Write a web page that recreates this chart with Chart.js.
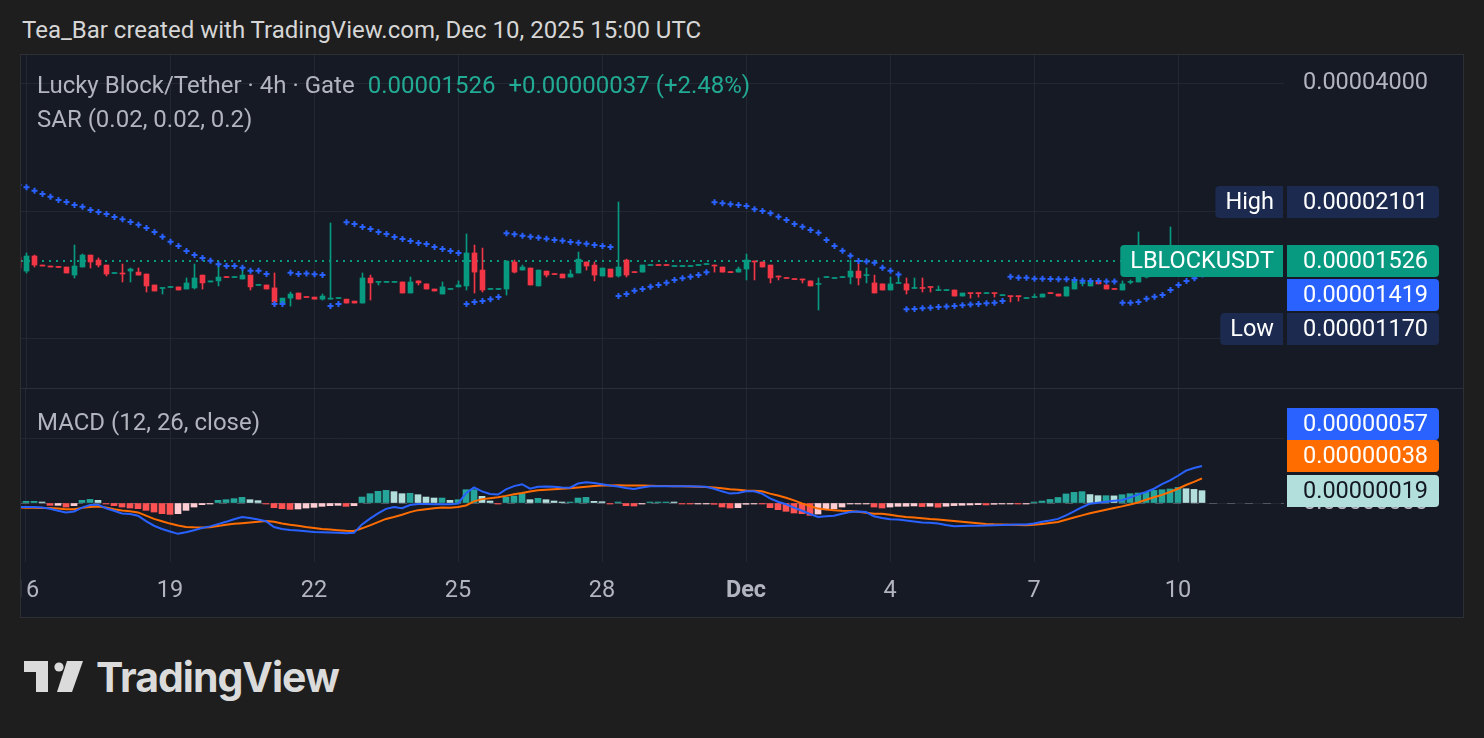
<!DOCTYPE html>
<html>
<head>
<meta charset="utf-8">
<script src="https://cdn.jsdelivr.net/npm/chart.js@4.4.1/dist/chart.umd.min.js"></script>
<style>
  body { margin: 0; width: 1484px; height: 738px; background: #1e1e1e; position: relative; overflow: hidden; font-family: Roboto, sans-serif; }
  #title { position: absolute; left: 22px; top: 16px; font-size: 24px; line-height: 28px; color: #d6d6d6; }
  #panel { position: absolute; left: 20px; top: 54px; width: 1442px; height: 562px; border: 1px solid #2e2f34; background: #161a25; }
  #sep { position: absolute; left: 21px; top: 388px; width: 1442px; height: 1px; background: #2a2e39; }
  .leg { position: absolute; left: 37px; font-size: 24px; line-height: 28px; color: #b2b5be; white-space: nowrap; }
  .up { color: #22ab94; margin-left: 13px; }
  canvas { position: absolute; }
  #logo { position: absolute; left: 24px; top: 661px; }
  #brand { position: absolute; left: 96px; top: 652px; font-family: Inter, sans-serif; font-weight: 700; font-size: 41px; line-height: 50px; color: #dbdbdb; letter-spacing: -1px; }
</style>
</head>
<body>
<div id="title">Tea_Bar created with TradingView.com, Dec 10, 2025 15:00 UTC</div>
<div id="panel"></div>
<div id="sep"></div>
<div style="position:absolute;left:21px;top:55px;width:1442px;height:333px"><canvas id="price"></canvas></div>
<div style="position:absolute;left:21px;top:389px;width:1442px;height:227px"><canvas id="macd"></canvas></div>
<div class="leg" style="top:71px">Lucky Block/Tether · 4h · Gate<span class="up">0.00001526</span><span class="up">+0.00000037 (+2.48%)</span></div>
<div class="leg" style="top:105px">SAR (0.02, 0.02, 0.2)</div>
<div class="leg" style="top:408px">MACD (12, 26, close)</div>
<svg id="logo" width="60" height="32" viewBox="0 0 60 32">
  <path d="M0 0 H24 V31 H12 V11 H0 Z" fill="#dbdbdb"/>
  <circle cx="35" cy="6" r="4.6" fill="#dbdbdb"/>
  <path d="M43 0 H59 L48 31 H33 Z" fill="#dbdbdb"/>
</svg>
<div id="brand">TradingView</div>

<script>
// 4h bars, Nov 15 20:00 -> Dec 10 12:00 UTC; prices in units of 1e-8 USDT
const UNIT = 1e-8;
const FIRST_BAR = -1;   // bar index of the first value (0 = Nov 16 00:00)

const open = [1559,1445,1568,1493,1485,1477,1477,1414,1477,1576,1534,1493,1426,1430,1445,1437,1422,1340,1315,1322,
  1326,1311,1319,1414,1362,1370,1399,1395,1384,1414,1337,1340,1319,1215,1248,1283,1255,1255,1241,1241,
  1245,1241,1228,1215,1392,1359,1359,1359,1362,1283,1370,1348,1311,1276,1308,1326,1333,1594,1453,1308,
  1308,1311,1518,1453,1469,1333,1445,1422,1422,1399,1430,1518,1493,1407,1461,1407,1534,1437,1437,1489,
  1493,1493,1481,1481,1481,1489,1497,1493,1477,1437,1437,1461,1526,1518,1493,1407,1392,1384,1384,1370,
  1344,1395,1388,1395,1399,1445,1410,1355,1348,1304,1351,1348,1315,1319,1326,1300,1300,1304,1262,1283,
  1283,1279,1283,1265,1262,1262,1245,1252,1255,1283,1276,1262,1311,1351,1333,1362,1340,1311,1304,1359,
  1362,1399,1453,1437,1518,1576,1518,1501,1489];
const high = [1576,1594,1576,1493,1485,1479,1477,1664,1585,1576,1551,1493,1430,1501,1469,1469,1422,1340,1319,1326,
  1326,1392,1501,1414,1370,1509,1399,1399,1477,1414,1340,1340,1430,1248,1290,1283,1255,1255,1276,1875,
  1248,1241,1228,1430,1414,1362,1362,1362,1362,1399,1370,1348,1311,1362,1311,1370,1767,1664,1637,1311,
  1311,1526,1534,1493,1469,1453,1445,1422,1422,1453,1602,1518,1518,1469,1461,2101,1542,1437,1493,1493,
  1493,1493,1485,1485,1485,1493,1501,1493,1477,1437,1477,1585,1526,1518,1493,1407,1392,1384,1384,1370,
  1392,1399,1392,1399,1534,1509,1469,1414,1348,1399,1414,1392,1392,1392,1326,1333,1304,1304,1283,1283,
  1283,1283,1283,1269,1262,1262,1248,1276,1276,1283,1276,1326,1370,1370,1377,1362,1340,1311,1370,1377,
  1786,1461,1469,1534,1835,1594,1534,1509,1551];
const low = [1453,1430,1477,1485,1477,1472,1430,1392,1477,1469,1477,1407,1426,1362,1362,1414,1290,1297,1276,1322,
  1304,1311,1311,1311,1362,1333,1395,1395,1384,1304,1337,1311,1195,1208,1195,1241,1252,1241,1235,1241,
  1245,1215,1215,1215,1235,1340,1359,1359,1283,1283,1340,1311,1297,1276,1308,1326,1304,1283,1290,1308,
  1308,1269,1430,1453,1340,1333,1399,1418,1392,1399,1430,1453,1370,1407,1399,1399,1399,1433,1437,1489,
  1489,1489,1481,1481,1481,1489,1497,1437,1437,1433,1437,1377,1377,1477,1355,1377,1388,1380,1355,1333,
  1170,1395,1388,1395,1348,1340,1355,1283,1304,1304,1351,1276,1315,1290,1290,1300,1300,1262,1262,1248,
  1255,1279,1255,1265,1222,1228,1245,1252,1255,1279,1262,1262,1311,1333,1333,1348,1311,1308,1304,1348,
  1362,1392,1430,1430,1501,1501,1477,1477,1477];
const close = [1469,1568,1493,1485,1477,1474,1430,1485,1576,1518,1493,1422,1430,1422,1461,1414,1333,1297,1319,1326,
  1304,1355,1392,1355,1370,1399,1395,1399,1414,1326,1340,1311,1222,1248,1276,1241,1252,1241,1262,1248,
  1248,1215,1215,1392,1355,1362,1362,1362,1283,1362,1355,1311,1297,1326,1311,1340,1594,1437,1304,1311,
  1311,1526,1437,1477,1340,1453,1414,1418,1392,1422,1542,1485,1414,1469,1399,1477,1414,1433,1493,1493,
  1489,1489,1485,1485,1485,1493,1501,1485,1437,1433,1461,1534,1518,1477,1392,1399,1388,1380,1377,1333,
  1348,1399,1392,1399,1445,1392,1414,1283,1304,1348,1355,1304,1319,1315,1322,1304,1304,1262,1283,1279,
  1279,1283,1279,1269,1258,1258,1248,1255,1276,1279,1262,1326,1370,1355,1362,1348,1311,1308,1348,1362,
  1399,1453,1437,1518,1576,1518,1485,1489,1526];
// Parabolic SAR (0.02, 0.02, 0.2)
const sar = [2304,2275,2234,2194,2162,2124,2101,2067,2048,2012,1990,1969,1937,1913,1886,1858,1825,1786,1741,1694,
  1655,1611,1576,1551,1528,1499,1485,1485,1471,1447,1447,1422,1208,1208,1432,1422,1427,1420,1414,1195,
  1208,1883,1865,1835,1815,1786,1767,1738,1719,1701,1682,1673,1646,1629,1611,1594,1208,1222,1228,1241,
  1255,1773,1764,1750,1741,1731,1722,1710,1704,1692,1685,1676,1664,1655,1646,1262,1276,1299,1311,1328,
  1340,1357,1377,1389,1401,1414,1435,2097,2086,2075,2067,2056,2020,2001,1976,1941,1906,1865,1838,1805,
  1779,1710,1655,1614,1571,1526,1522,1512,1471,1447,1418,1175,1177,1181,1185,1189,1193,1195,1200,1206,
  1208,1213,1217,1228,1401,1394,1394,1386,1386,1384,1382,1382,1377,1372,1370,1370,1365,1365,1217,1217,
  1222,1243,1257,1269,1304,1340,1370,1389,1419];
// MACD (12, 26, close), units of 1e-8
const macd = [-6,-6,-6,-7,-9,-12,-14.5,-13,-7,-3,-2.5,-8,-12,-16,-17,-19.5,-28,-35,-40,-44,
  -47.5,-45,-42,-38.5,-36,-32.5,-29,-25,-21.5,-23,-25.5,-28,-37,-40,-41.5,-42.5,-43.5,-44.5,-45,-45.5,
  -46,-46.5,-46,-33,-24,-16,-9,-6,-8,-3,-1.5,-1.5,-2,-2,-2,-1,15,24,18,14,
  13,21,26,29,22,25,25.5,25,24,23.7,30,32,31,29,27,25.5,23,21.5,24,25.7,
  26,26,26,26,25.8,25.3,25,22,18,14.5,15.5,18,18,14.5,7,2,-2,-7,-12,-17,
  -21.5,-20.5,-19.5,-16.5,-14,-13,-14,-20.5,-23,-25,-25.3,-27,-28.5,-30,-30.5,-31.5,-34,-35.9,-35.5,-35.2,
  -35,-34.7,-34.2,-34,-33.5,-33.2,-33,-31.5,-29,-27,-24.5,-19,-13,-6.5,-1,0.5,2,3.5,4.2,8.5,
  13,17,22,29,35,42,50,54,57];
const signal = [-7,-7.2,-7.4,-7.5,-7.6,-8.5,-9.5,-9.5,-7.5,-6,-5.3,-7,-9.5,-11.5,-12.8,-14.5,-19.5,-24.5,-28,-31.7,
  -34.5,-36.8,-37.5,-37.7,-37.3,-35.5,-33.5,-32,-31,-30,-29,-27.7,-29,-31.5,-33.5,-35,-37,-38.5,-40,-41,
  -42,-42.8,-43,-39,-34.4,-29.5,-24.5,-21.5,-18,-14,-11,-9.5,-8.2,-7,-7.2,-6,-3.8,2.5,6,7.5,
  9,11,13.5,15.5,17.8,19.5,20.5,21.3,22,22.7,24,25.2,26.2,26.8,27,27.3,27.1,27,26.8,26.6,
  26.4,26.2,26,25.8,25.5,25.1,24.8,24,22.8,21.3,20.3,19.2,18.9,18,14.5,11.5,8,4,-0.5,-4.5,
  -8.6,-10,-11,-11.8,-12.3,-13.5,-15,-16.5,-16.5,-18,-20,-21.5,-22.3,-23.5,-24.7,-25.5,-26.6,-27.7,-28.8,-29.9,
  -31,-32.2,-32.9,-33.3,-33.6,-33.9,-34.2,-33.6,-32.2,-30.8,-29.3,-25.9,-22.4,-19,-15.9,-13.1,-10.4,-7.6,-5.2,-2.2,
  0.8,5,8.8,12.5,16.9,22,27.8,32.5,38];
const hist = [1.5,2.6,2.6,1.5,-3.6,-3.6,-6.2,-4.1,4.1,5.6,4.1,-0.5,-4.1,-6.2,-7.7,-8.7,-11.3,-13.9,-16.4,-17.5,
  -16.4,-11.3,-6.2,-2.6,-1.5,4.1,5.1,6.7,8.7,5.1,3.6,-0.3,-7.2,-8.7,-9.8,-9.2,-7.7,-6.7,-5.1,-4.1,
  -3.6,-5.1,-4.1,9.2,14.4,18,19.5,17.5,14.4,15,12.8,9.2,7.7,7.7,4.1,5.1,20.5,20.5,10.3,3.1,
  -1.5,9.2,10.8,14.4,5.1,7.2,5.1,3.1,1.5,1.5,7.7,8.7,2.6,2,-1.5,1,-4.1,-4.6,-1,0.5,
  0.5,0.5,0.4,-1,-1.5,-1.5,-1.5,-2,-6.2,-7.7,-7.2,-2,-0.5,-1.5,-7.2,-10.3,-12.8,-15.4,-16.4,-19,
  -17,-10.3,-8.7,-6.2,-1.5,-1.5,-1,-6.2,-7.7,-6.2,-5.1,-5,-4.5,-5.5,-5,-6.5,-5,-4,-3.5,-3,
  -2.5,-3,-2,-1.5,-1,-1.5,-1,1.5,3,5.5,8.5,14,16.4,17.5,13,11.3,11.3,11,12.8,14.4,
  15.4,16.4,19.5,20.5,21.6,24,22,21,19];

// date axis: bar index of each labelled day and its label
const dateTicks = [0, 18, 36, 54, 72, 90, 108, 126, 144];
const dateLabels = ['16', '19', '22', '25', '28', 'Dec', '4', '7', '10'];

const priceTicks = [1000, 2000, 4000];
const macdTicks = [0, 100];

const UP = '#089981', DOWN = '#f23645';
const GRID = '#232733', TEXT = '#b2b5be';
const AXIS_W = 179;
const FONT = 'Roboto';
const AXIS_FONT = 23.5;

const xs = close.map((_, k) => k + FIRST_BAR);
const candleColor = close.map((c, k) => c >= open[k] ? UP : DOWN);
const histColor = hist.map((h, k) => {
  const prev = k > 0 ? hist[k - 1] : h;
  if (h >= 0) return h >= prev ? '#26a69a' : '#b2dfdb';
  return h >= prev ? '#ffcdd2' : '#ff5252';
});
const fmt = v => Number(v).toFixed(8);

function noPad(s) {
  s.paddingLeft = 0; s.paddingRight = 0; s.paddingTop = 0; s.paddingBottom = 0;
}

function xScale(min, showLabels) {
  return {
    type: 'linear', min: min, max: min + 1263 / 8, offset: false, bounds: 'data',
    afterBuildTicks: s => { s.ticks = dateTicks.map(v => ({ value: v })); },
    afterFit: s => { s.height = showLabels ? 54 : 0; noPad(s); },
    grid: { color: GRID, drawTicks: false, offset: false },
    border: { display: false },
    ticks: {
      display: showLabels, padding: 15, color: TEXT, maxRotation: 0, autoSkip: false,
      font: ctx => ({ family: FONT, size: AXIS_FONT, weight: dateLabels[ctx.index] === 'Dec' ? 'bold' : 'normal' }),
      callback: (v, i) => dateLabels[i]
    }
  };
}

function yAxis(extra) {
  return Object.assign({
    position: 'right', bounds: 'data',
    afterFit: s => { s.width = AXIS_W; noPad(s); },
    grid: { color: GRID, drawTicks: false },
    border: { display: false },
    ticks: { color: TEXT, padding: 19, font: { family: FONT, size: AXIS_FONT }, callback: v => fmt(v) }
  }, extra);
}

function roundBox(ctx, x, y, w, h, r, fill) {
  ctx.beginPath();
  ctx.roundRect(x, y, w, h, r);
  ctx.fillStyle = fill;
  ctx.fill();
}

// price pane -------------------------------------------------------------
const priceLabels = {
  id: 'priceLabels',
  beforeDatasetsDraw(chart) {
    const { ctx, chartArea, scales } = chart;
    const y = Math.round(scales.y.getPixelForValue(close[close.length - 1] * UNIT));
    ctx.save();
    ctx.strokeStyle = UP;
    ctx.lineWidth = 2;
    ctx.setLineDash([2, 5]);
    ctx.beginPath();
    ctx.moveTo(chartArea.left, y);
    ctx.lineTo(chartArea.right, y);
    ctx.stroke();
    ctx.restore();
  },
  afterDraw(chart) {
    const { ctx, chartArea, scales } = chart;
    const H = 32, x0 = chartArea.right + 3, W = 152;
    const items = [
      { title: 'High', v: Math.max(...high), bg: '#1b2a4e' },
      { title: 'LBLOCKUSDT', v: close[close.length - 1], bg: UP },
      { title: null, v: sar[sar.length - 1], bg: '#2962ff' },
      { title: 'Low', v: Math.min(...low), bg: '#1b2a4e' }
    ];
    let prevBottom = -Infinity;
    ctx.save();
    ctx.font = `${AXIS_FONT}px ${FONT}`;
    ctx.textBaseline = 'middle';
    items.forEach(it => {
      let cy = scales.y.getPixelForValue(it.v * UNIT);
      cy = Math.max(cy, prevBottom + 2 + H / 2);
      const top = Math.round(cy - H / 2);
      prevBottom = top + H;
      roundBox(ctx, x0, top, W, H, [0, 4, 4, 0], it.bg);
      ctx.fillStyle = '#ffffff';
      ctx.textAlign = 'left';
      ctx.fillText(fmt(it.v * UNIT), chartArea.right + 19, top + H / 2 + 1);
      if (it.title) {
        const tw = ctx.measureText(it.title).width + 19;
        roundBox(ctx, chartArea.right - 1 - tw, top, tw, H, [4, 0, 0, 4], it.bg);
        ctx.fillStyle = '#ffffff';
        ctx.fillText(it.title, chartArea.right - tw + 9, top + H / 2 + 1);
      }
    });
    ctx.restore();
  }
};

new Chart(document.getElementById('price'), {
  data: {
    datasets: [
      {
        type: 'line', label: 'SAR', order: 0,
        data: xs.map((x, k) => ({ x: x, y: sar[k] * UNIT })),
        showLine: false, pointStyle: 'cross', pointRadius: 3, pointBorderWidth: 2,
        pointBorderColor: '#2962ff', borderColor: '#2962ff'
      },
      {
        type: 'bar', label: 'body', order: 1,
        data: xs.map((x, k) => ({ x: x, y: [open[k] * UNIT, close[k] * UNIT] })),
        backgroundColor: candleColor, barThickness: 5, minBarLength: 1, grouped: false
      },
      {
        type: 'bar', label: 'wick', order: 2,
        data: xs.map((x, k) => ({ x: x, y: [low[k] * UNIT, high[k] * UNIT] })),
        backgroundColor: candleColor, barThickness: 1, minBarLength: 1, grouped: false
      }
    ]
  },
  options: {
    responsive: true, maintainAspectRatio: false, animation: false,
    layout: { padding: 0, autoPadding: false },
    plugins: { legend: { display: false }, tooltip: { enabled: false } },
    scales: {
      x: xScale(-5.5 / 8, false),
      y: yAxis({
        type: 'logarithmic', min: 766.7 * UNIT, max: 4661 * UNIT,
        afterBuildTicks: s => { s.ticks = priceTicks.map(v => ({ value: v * UNIT })); }
      })
    }
  },
  plugins: [priceLabels]
});

// MACD pane --------------------------------------------------------------
const macdLabels = {
  id: 'macdLabels',
  beforeDatasetsDraw(chart) {
    const { ctx, chartArea, scales } = chart;
    const y = Math.round(scales.y.getPixelForValue(0)) + 0.5;
    ctx.save();
    ctx.strokeStyle = 'rgba(120,123,134,0.55)';
    ctx.lineWidth = 1;
    ctx.setLineDash([8, 10]);
    ctx.beginPath();
    ctx.moveTo(chartArea.left, y);
    ctx.lineTo(chartArea.right, y);
    ctx.stroke();
    ctx.restore();
  },
  afterDraw(chart) {
    const { ctx, chartArea, scales } = chart;
    const H = 32, x0 = chartArea.right + 3, W = 152;
    const n = macd.length - 1;
    const items = [
      { v: hist[n], bg: '#b2dfdb', fg: '#131722', gap: 0 },
      { v: signal[n], bg: '#ff6d00', fg: '#ffffff', gap: 3 },
      { v: macd[n], bg: '#2962ff', fg: '#ffffff', gap: 0 }
    ];
    let prevTop = Infinity;
    ctx.save();
    ctx.font = `${AXIS_FONT}px ${FONT}`;
    ctx.textBaseline = 'middle';
    ctx.textAlign = 'left';
    items.forEach(it => {
      let cy = scales.y.getPixelForValue(it.v * UNIT);
      cy = Math.min(cy, prevTop - it.gap - H / 2);
      const top = Math.round(cy - H / 2);
      prevTop = top;
      roundBox(ctx, x0, top, W, H, [0, 4, 4, 0], it.bg);
      ctx.fillStyle = it.fg;
      ctx.fillText(fmt(it.v * UNIT), chartArea.right + 19, top + H / 2 + 1);
    });
    ctx.restore();
  }
};

new Chart(document.getElementById('macd'), {
  data: {
    datasets: [
      {
        type: 'line', label: 'MACD', order: 0,
        data: xs.map((x, k) => ({ x: x, y: macd[k] * UNIT })),
        borderColor: '#2962ff', borderWidth: 2, pointRadius: 0, tension: 0
      },
      {
        type: 'line', label: 'Signal', order: 1,
        data: xs.map((x, k) => ({ x: x, y: signal[k] * UNIT })),
        borderColor: '#ff6d00', borderWidth: 2, pointRadius: 0, tension: 0
      },
      {
        type: 'bar', label: 'Histogram', order: 2,
        data: xs.map((x, k) => ({ x: x, y: hist[k] * UNIT })),
        backgroundColor: histColor, barThickness: 6, minBarLength: 1, grouped: false
      }
    ]
  },
  options: {
    responsive: true, maintainAspectRatio: false, animation: false,
    layout: { padding: 0, autoPadding: false },
    plugins: { legend: { display: false }, tooltip: { enabled: false } },
    scales: {
      x: xScale(-5 / 8, true),
      y: yAxis({
        type: 'linear', min: -90.9 * UNIT, max: 175.7 * UNIT,
        afterBuildTicks: s => { s.ticks = macdTicks.map(v => ({ value: v * UNIT })); }
      })
    }
  },
  plugins: [macdLabels]
});
</script>
</body>
</html>
